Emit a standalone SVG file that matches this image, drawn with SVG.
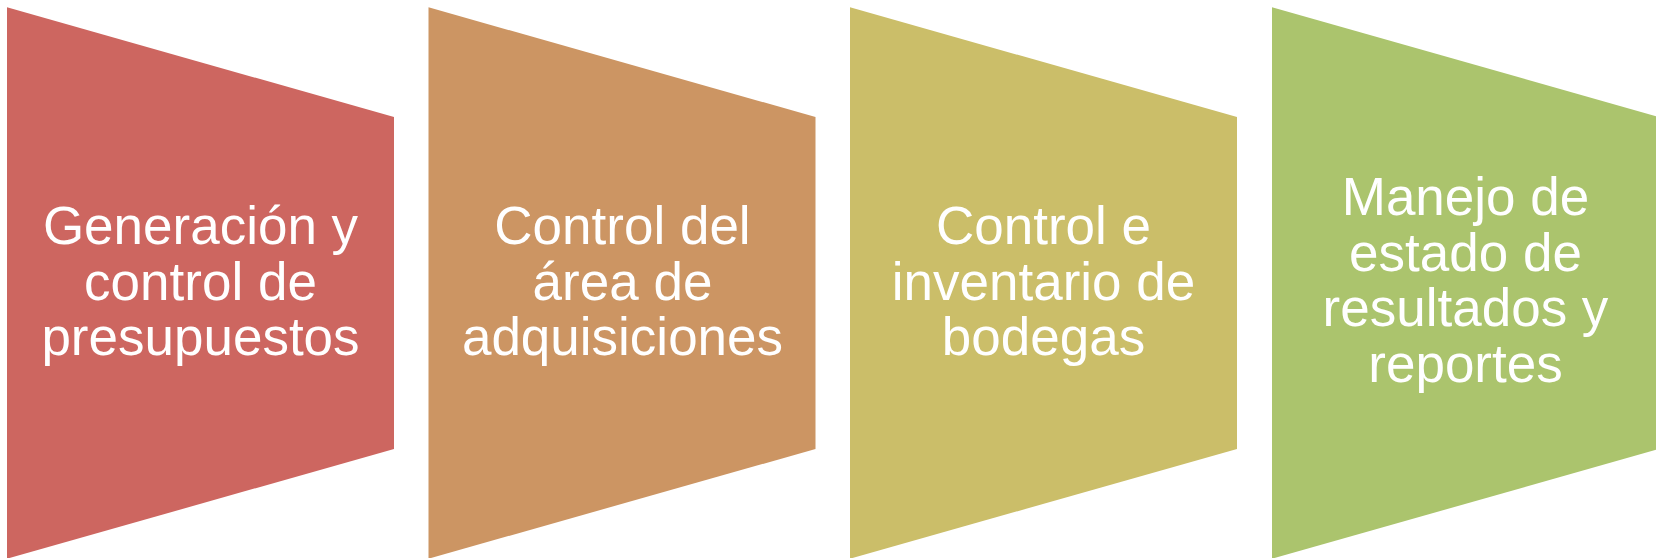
<svg xmlns="http://www.w3.org/2000/svg" width="1656" height="558" viewBox="0 0 1656 558">
<style>
.lbl{font-family:"Liberation Sans",Arial,sans-serif;font-size:53px;fill:#ffffff;text-anchor:middle}
</style>
<rect width="1656" height="558" fill="#ffffff"/>
<g id="node1">
<polygon points="7,7.3 394,117 394,449 7,558.7" fill="#CD6660"/>
<text class="lbl"><tspan x="200.5" y="244">Generación y</tspan><tspan x="200.5" y="299.5">control de</tspan><tspan x="200.5" y="355">presupuestos</tspan></text>
</g>
<g id="node2">
<polygon points="428.5,7.3 815.5,117 815.5,449 428.5,558.7" fill="#CC9563"/>
<text class="lbl"><tspan x="622.5" y="244">Control del</tspan><tspan x="622.5" y="299.5">área de</tspan><tspan x="622.5" y="355">adquisiciones</tspan></text>
</g>
<g id="node3">
<polygon points="850,7.3 1237,117 1237,449 850,558.7" fill="#CBBE69"/>
<text class="lbl"><tspan x="1043.5" y="244">Control e</tspan><tspan x="1043.5" y="299.5">inventario de</tspan><tspan x="1043.5" y="355">bodegas</tspan></text>
</g>
<g id="node4">
<polygon points="1272,7.3 1659,117 1659,449 1272,558.7" fill="#ABC46D"/>
<text class="lbl"><tspan x="1465.5" y="215">Manejo de</tspan><tspan x="1465.5" y="270.5">estado de</tspan><tspan x="1465.5" y="326">resultados y</tspan><tspan x="1465.5" y="381.5">reportes</tspan></text>
</g>
<g id="connectors"></g>
</svg>
